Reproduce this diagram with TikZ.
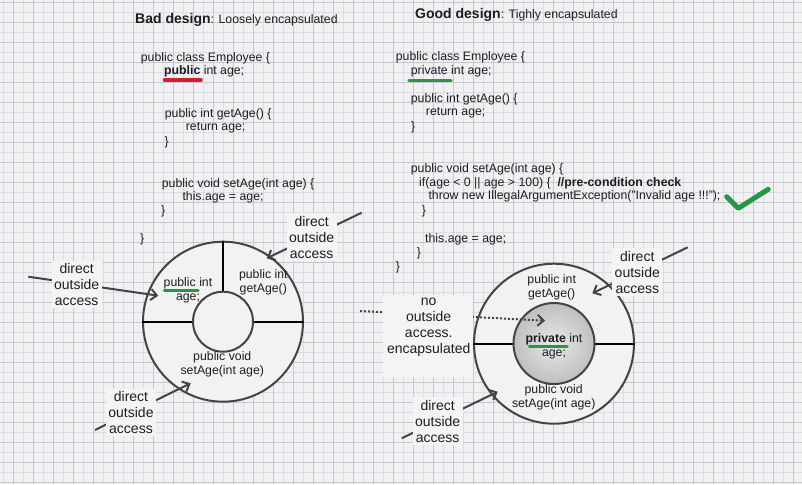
\documentclass[tikz,border=0pt]{standalone}
\usepackage{fontspec}
\setmainfont{Liberation Sans}
\usetikzlibrary{arrows.meta}
\definecolor{bgc}{RGB}{241,241,241}
\definecolor{gminor}{RGB}{220,220,232}
\definecolor{gmajor}{RGB}{198,198,216}
\definecolor{ink}{RGB}{30,30,30}
\definecolor{stroke}{RGB}{68,68,68}
\definecolor{cfill}{RGB}{242,242,242}
\definecolor{lblbg}{RGB}{244,244,244}
\definecolor{ulred}{RGB}{204,34,40}
\definecolor{ulgreen}{RGB}{40,150,70}
\tikzset{
  code/.style={anchor=west, inner sep=0pt, text=ink, font=\fontsize{12.3}{14}\selectfont, text height=9pt, text depth=2.5pt},
  ctext/.style={align=center, inner sep=0pt, text=ink, font=\fontsize{12.3}{14}\selectfont},
  lbl/.style={align=center, inner sep=2.5pt, fill=lblbg, text=ink, font=\fontsize{14}{16}\selectfont},
  lbltext/.style={align=center, inner sep=0pt, text=ink, font=\fontsize{14}{16}\selectfont},
  arr/.style={draw=stroke, line width=2pt, -{Straight Barb[length=6pt,width=11pt]}},
  darr/.style={draw=stroke, line width=2pt, dotted, -{Straight Barb[length=6pt,width=11pt]}},
  ring/.style={circle, draw=stroke, line width=2pt, fill=cfill, inner sep=0pt},
  ul/.style={line width=3.5pt, line cap=round},
}
\begin{document}
\begin{tikzpicture}[x=1pt,y=-1pt]
\useasboundingbox (0,0) rectangle (802,484);
\fill[bgc] (0,0) rectangle (802,484);
% grid
\foreach \i in {0,...,79} {\draw[gminor, line width=0.8pt] ({3.3+10*\i},0) -- ({3.3+10*\i},484);}
\foreach \i in {0,...,48} {\draw[gminor, line width=0.8pt] (0,{2.7+10*\i}) -- (802,{2.7+10*\i});}
\foreach \i in {0,...,39} {\draw[gmajor, line width=0.9pt] ({13.3+20*\i},0) -- ({13.3+20*\i},484);}
\foreach \i in {0,...,24} {\draw[gmajor, line width=0.9pt] (0,{2.7+20*\i}) -- (802,{2.7+20*\i});}

% titles
\node[code] (tbad) at (135,20.5) {{\fontsize{14}{16}\selectfont\bfseries Bad design}: Loosely encapsulated};
\node[code] (tgood) at (415,15.7) {{\fontsize{14}{16}\selectfont\bfseries Good design}: Tighly encapsulated};

% left code
\node[code] (b1) at (140.7,58.3) {public class Employee \{};
\node[code] (b2) at (164,71.7) {\textbf{public} int age;};
\node[code] (b3) at (164.7,114.3) {public int getAge() \{};
\node[code] (b4) at (185.7,127.7) {return age;};
\node[code] (b5) at (164.3,142.3) {\}};
\node[code] (b6) at (161.7,184) {public void setAge(int age) \{};
\node[code] (b7) at (182.3,197.7) {this.age = age;};
\node[code] (b8) at (161,211.7) {\}};
\node[code] (b9) at (140,239) {\}};
\draw[ulred, ul] (164.5,80) -- (201,80);

% right code
\node[code] (g1) at (395.7,57.3) {public class Employee \{};
\node[code] (g2) at (410.7,71) {private int age;};
\node[code] (g3) at (410.7,99.3) {public int getAge() \{};
\node[code] (g4) at (425.7,112.7) {return age;};
\node[code] (g5) at (411,127.7) {\}};
\node[code] (g6) at (410.7,169.3) {public void setAge(int age) \{};
\node[code] (g7) at (419,183) {if(age < 0 || age > 100) \{\ \ \textbf{//pre-condition check}};
\node[code] (g8) at (428.3,196.7) {throw new IllegalArgumentException("Invalid age !!!");};
\node[code] (g9) at (421.7,211.7) {\}};
\node[code] (g10) at (425,239) {this.age = age;};
\node[code] (g11) at (416.7,253.3) {\}};
\node[code] (g12) at (395.7,267.7) {\}};
\draw[ulgreen, ul] (409,80.3) -- (451,80.3);

% check mark
\draw[ulgreen, line width=5pt, line cap=round, line join=round] (726.7,196.7) -- (738.3,208.3) -- (768.3,189.3);

% left ring
\node[ring, minimum size=160pt] (Lout) at (223,321.7) {};
\node[ring, minimum size=60pt] (Lin) at (223,321.7) {};
\draw[stroke, line width=2pt] (Lout.north) -- (Lin.north);
\draw[stroke, line width=2pt] (Lout.west) -- (Lin.west);
\draw[stroke, line width=2pt] (Lin.east) -- (Lout.east);
\node[ctext] (Lage) at (188,290.5) {public int\\age;};
\node[ctext] (Lget) at (263.3,282.7) {public int\\getAge()};
\node[ctext] (Lset) at (222.3,364.5) {public void\\setAge(int age)};
\draw[ulgreen, ul] (164.5,290.7) -- (198,290.7);

% right ring
\node[ring, minimum size=160pt] (Rout) at (554,343.7) {};
\draw[stroke, line width=2pt] (Rout.west) -- (554,343.7) -- (Rout.east);
\shade[inner color=black!9, outer color=black!25] (554,343.5) circle (40.5pt);
\node[circle, draw=stroke, line width=2pt, minimum size=81pt, inner sep=0pt] (Rin) at (554,343.5) {};
\node[ctext] (Rget) at (551.7,287.7) {public int\\getAge()};
\node[ctext] (Rage) at (554,346) {\textbf{private} int\\age;};
\node[ctext] (Rset) at (553.7,397.7) {public void\\setAge(int age)};
\draw[ulgreen, ul] (529.5,346.3) -- (567,346.3);

% arrows (drawn beneath their labels)
\coordinate (a1s) at (28.3,276.7);   \coordinate (a1e) at (158.3,295.7);
\coordinate (a2s) at (361.7,212.7);  \coordinate (a2e) at (266.7,258.3);
\coordinate (a3s) at (95,430);       \coordinate (a3e) at (190.7,383.3);
\coordinate (a4s) at (687.7,247.3);  \coordinate (a4e) at (592.3,293.3);
\coordinate (a5s) at (401.7,438.3);  \coordinate (a5e) at (497.7,391.7);
\coordinate (a6s) at (360,311);      \coordinate (a6e) at (545,320.7);
\draw[arr] (a1s) -- (a1e);
\draw[arr] (a2s) -- (a2e);
\draw[arr] (a3s) -- (a3e);
\draw[arr] (a4s) -- (a4e);
\draw[arr] (a5s) -- (a5e);
\draw[darr] (a6s) -- (a6e);

% labels
\node[lbl] (L1) at (76.7,284.3) {direct\\outside\\access};
\node[lbl] (L2) at (311.7,237) {direct\\outside\\access};
\node[lbl] (L3) at (131,412.7) {direct\\outside\\access};
\node[lbl] (R1) at (637.3,272) {direct\\outside\\access};
\node[lbl] (R2) at (437.7,421) {direct\\outside\\access};
\node[fill=lblbg, minimum width=90pt, minimum height=82pt, inner sep=0pt] (nobox) at (428.2,335.8) {};
\node[lbltext] (no) at (428.7,327) {no\\outside\\access.\\encapsulated};
\end{tikzpicture}
\end{document}
